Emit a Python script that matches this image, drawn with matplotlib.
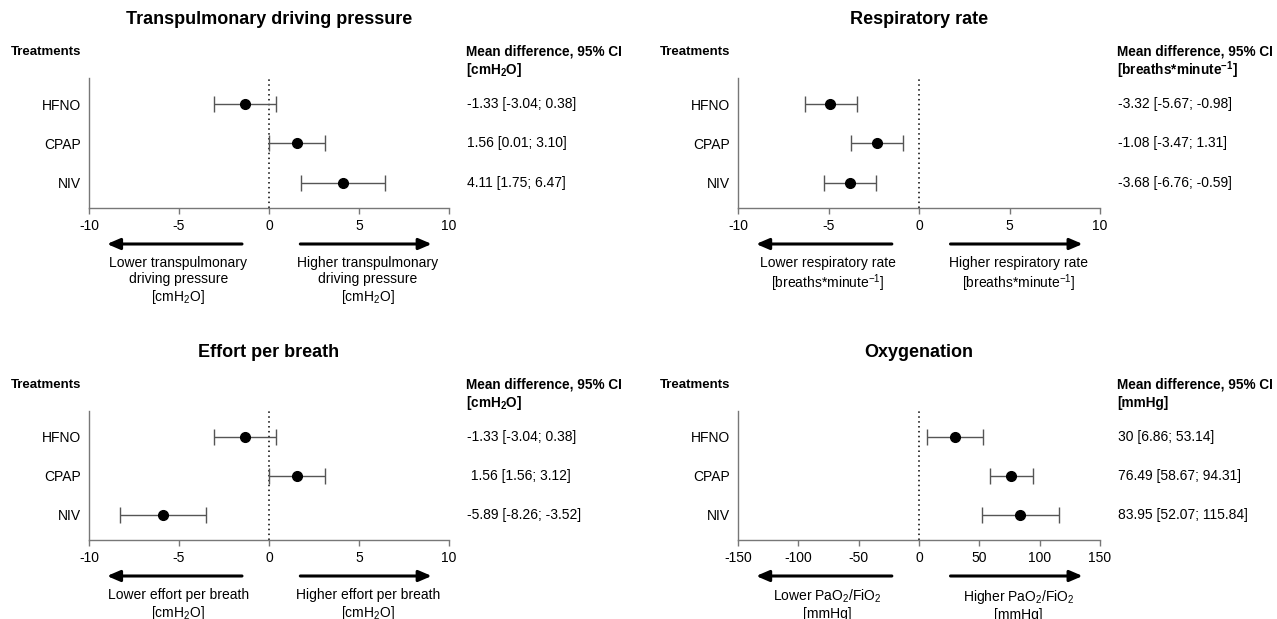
import matplotlib.pyplot as plt
import matplotlib.transforms as mtransforms

plt.rcParams['font.family'] = ['Liberation Sans', 'DejaVu Sans']
plt.rcParams['mathtext.default'] = 'regular'
plt.rcParams['axes.unicode_minus'] = False

treatments = ['HFNO', 'CPAP', 'NIV']

# transpulmonary driving pressure
tdp_mean = [-1.33, 1.56, 4.11]
tdp_lo = [-3.04, 0.01, 1.75]
tdp_hi = [0.38, 3.10, 6.47]
tdp_text = ['-1.33 [-3.04; 0.38]', '1.56 [0.01; 3.10]', '4.11 [1.75; 6.47]']

# respiratory rate (points as drawn in the figure)
rr_mean = [-4.9, -2.3, -3.8]
rr_lo = [-6.3, -3.75, -5.25]
rr_hi = [-3.45, -0.9, -2.4]
rr_text = ['-3.32 [-5.67; -0.98]', '-1.08 [-3.47; 1.31]', '-3.68 [-6.76; -0.59]']

# effort per breath
epb_mean = [-1.33, 1.56, -5.89]
epb_lo = [-3.04, 0.01, -8.26]
epb_hi = [0.38, 3.12, -3.52]
epb_text = ['-1.33 [-3.04; 0.38]', ' 1.56 [1.56; 3.12]', '-5.89 [-8.26; -3.52]']

# oxygenation
oxy_mean = [30, 76.49, 83.95]
oxy_lo = [6.86, 58.67, 52.07]
oxy_hi = [53.14, 94.31, 115.84]
oxy_text = ['30 [6.86; 53.14]', '76.49 [58.67; 94.31]', '83.95 [52.07; 115.84]']

small_ticks = [-10, -5, 0, 5, 10]
oxy_ticks = [-150, -100, -50, 0, 50, 100, 150]

W, H = 1277, 619

panels = [
    dict(rect=(89, 78, 449, 208), title='Transpulmonary driving pressure',
         unit='[cmH$_2$O]', mean=tdp_mean, lo=tdp_lo, hi=tdp_hi, text=tdp_text,
         ticks=small_ticks,
         lower='Lower transpulmonary\ndriving pressure\n[cmH$_2$O]',
         higher='Higher transpulmonary\ndriving pressure\n[cmH$_2$O]'),
    dict(rect=(738, 78, 1100, 208), title='Respiratory rate',
         unit='[breaths*minute$^{-1}$]', mean=rr_mean, lo=rr_lo, hi=rr_hi, text=rr_text,
         ticks=small_ticks,
         lower='Lower respiratory rate\n[breaths*minute$^{-1}$]',
         higher='Higher respiratory rate\n[breaths*minute$^{-1}$]'),
    dict(rect=(89, 411, 449, 540), title='Effort per breath',
         unit='[cmH$_2$O]', mean=epb_mean, lo=epb_lo, hi=epb_hi, text=epb_text,
         ticks=small_ticks,
         lower='Lower effort per breath\n[cmH$_2$O]',
         higher='Higher effort per breath\n[cmH$_2$O]'),
    dict(rect=(738, 411, 1100, 540), title='Oxygenation',
         unit='[mmHg]', mean=oxy_mean, lo=oxy_lo, hi=oxy_hi, text=oxy_text,
         ticks=oxy_ticks,
         lower='Lower PaO$_2$/FiO$_2$\n[mmHg]',
         higher='Higher PaO$_2$/FiO$_2$\n[mmHg]'),
]

fig = plt.figure(figsize=(W / 100, H / 100), dpi=100)
PT = 0.72  # points per pixel at dpi 100

for p in panels:
    x0, y0, x1, y1 = p['rect']
    ax = fig.add_axes([x0 / W, 1 - y1 / H, (x1 - x0) / W, (y1 - y0) / H])
    ypos = [3, 2, 1]
    mean = p['mean']
    xerr = [[m - l for m, l in zip(mean, p['lo'])],
            [h - m for m, h in zip(mean, p['hi'])]]
    ax.errorbar(mean, ypos, xerr=xerr, fmt='o', color='black', ecolor='#555555',
                elinewidth=1, capsize=5.5, capthick=1, markersize=7, zorder=3)
    ax.axvline(0, color='black', ls=(0, (1, 2.2)), lw=1.1, zorder=1)

    ax.set_xlim(p['ticks'][0], p['ticks'][-1])
    ax.set_ylim(0.36, 3.66)
    ax.set_xticks(p['ticks'])
    ax.set_yticks(ypos, treatments)
    for s in ['top', 'right']:
        ax.spines[s].set_visible(False)
    for s in ['left', 'bottom']:
        ax.spines[s].set_color('#777777')
        ax.spines[s].set_linewidth(1)
    ax.tick_params(axis='x', length=4, width=1, color='#777777', labelsize=10, pad=4)
    ax.tick_params(axis='y', length=0, labelsize=10, pad=6)

    # title and column headers
    ax.annotate(p['title'], xy=(0.5, 1), xycoords='axes fraction',
                xytext=(0, 58 * PT), textcoords='offset points',
                ha='center', va='center', fontsize=13, fontweight='bold')
    ax.annotate('Treatments', xy=(0, 1), xycoords='axes fraction',
                xytext=(-78 * PT, 26 * PT), textcoords='offset points',
                ha='left', va='center', fontsize=9.5, fontweight='bold')
    ax.annotate('Mean difference, 95% CI', xy=(1, 1), xycoords='axes fraction',
                xytext=(17 * PT, 26 * PT), textcoords='offset points',
                ha='left', va='center', fontsize=9.8, fontweight='bold',
                annotation_clip=False)
    ax.annotate(p['unit'], xy=(1, 1), xycoords='axes fraction',
                xytext=(17 * PT, 8 * PT), textcoords='offset points',
                ha='left', va='center', fontsize=9.8, fontweight='bold',
                annotation_clip=False)

    trans = mtransforms.blended_transform_factory(ax.transAxes, ax.transData)
    for yy, t in zip(ypos, p['text']):
        ax.text(1.05, yy, t, transform=trans, ha='left', va='center', fontsize=10)

    # direction arrows and labels
    ya = -36 / (y1 - y0)
    arrow = dict(arrowstyle='-|>,head_length=0.7,head_width=0.3', lw=2.2,
                 color='black', mutation_scale=11, shrinkA=0, shrinkB=0)
    ax.annotate('', xy=(0.05, ya), xytext=(0.425, ya), xycoords='axes fraction',
                arrowprops=arrow, annotation_clip=False)
    ax.annotate('', xy=(0.952, ya), xytext=(0.587, ya), xycoords='axes fraction',
                arrowprops=arrow, annotation_clip=False)
    yt = -48 / (y1 - y0)
    ax.text(0.248, yt, p['lower'], transform=ax.transAxes, ha='center', va='top',
            fontsize=10, linespacing=1.15)
    ax.text(0.775, yt, p['higher'], transform=ax.transAxes, ha='center', va='top',
            fontsize=10, linespacing=1.15)

fig.savefig('out.png', dpi=100)
